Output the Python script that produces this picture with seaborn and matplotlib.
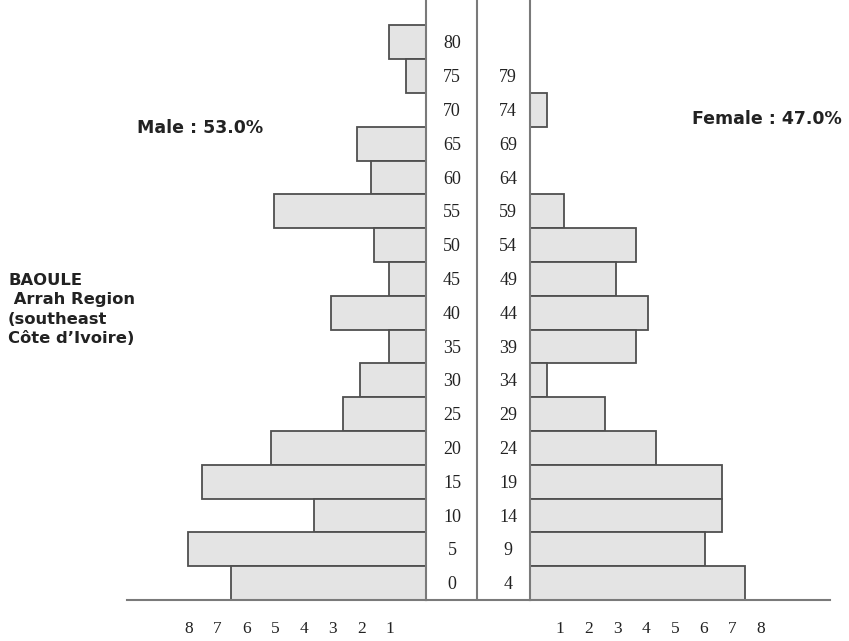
import matplotlib
matplotlib.use("Agg")
import matplotlib.pyplot as plt
import numpy as np
import pandas as pd
import seaborn as sns

# age groups, lower bound (left column) and upper bound (right column)
age_start = [0, 5, 10, 15, 20, 25, 30, 35, 40, 45, 50, 55, 60, 65, 70, 75, 80]
age_end = ["4", "9", "14", "19", "24", "29", "34", "39", "44", "49",
           "54", "59", "64", "69", "74", "79", ""]

# percent of population
male_pct = [6.8, 8.3, 3.9, 7.8, 5.4, 2.9, 2.3, 1.3, 3.3, 1.3,
            1.8, 5.3, 1.9, 2.4, 0.0, 0.7, 1.3]
female_pct = [7.5, 6.1, 6.7, 6.7, 4.4, 2.6, 0.6, 3.7, 4.1, 3.0,
              3.7, 1.2, 0.0, 0.0, 0.6, 0.0, 0.0]

male_ticks = [1, 2, 3, 4, 5, 6, 7, 8]
female_ticks = [1, 2, 3, 4, 5, 6, 7, 8]

male_share = "Male : 53.0%"
female_share = "Female : 47.0%"
group_note = ["BAOULE", " Arrah Region", "(southeast", "C\u00f4te d\u2019Ivoire)"]

W, H = 849, 641
PX = 28.7        # pixels per percent
ROW = 33.8       # pixels per age row
BAR = "#e4e4e4"
EDGE = "#4f4f4f"
LINE = "#7a7a7a"

sns.set_style("white")
plt.rcParams["font.family"] = ["Liberation Serif", "DejaVu Serif"]

df = pd.DataFrame({
    "group": [str(a) for a in age_start],
    "male": male_pct,
    "female": female_pct,
})
order = df["group"][::-1].tolist()

fig = plt.figure(figsize=(W / 100, H / 100), dpi=100)


def px_axes(x0, x1, y0, y1):
    return fig.add_axes([x0 / W, 1 - y1 / H, (x1 - x0) / W, (y1 - y0) / H])


ax_m = px_axes(127, 426, 0, 600)
ax_c = px_axes(426, 530, 0, 600)
ax_f = px_axes(530, 830, 0, 600)

for ax, col in [(ax_m, "male"), (ax_f, "female")]:
    sns.barplot(data=df, x=col, y="group", order=order, orient="h",
                color=BAR, edgecolor=EDGE, linewidth=1.3, width=1.0,
                saturation=1, errorbar=None, ax=ax)

n_rows = 600 / ROW
for ax in (ax_m, ax_c, ax_f):
    ax.set_ylim(len(order) - 0.5, len(order) - 0.5 - n_rows)
    ax.set_yticks([])
    ax.set_xlabel("")
    ax.set_ylabel("")
    ax.patch.set_alpha(0)
    for s in ax.spines.values():
        s.set_color(LINE)
        s.set_linewidth(1.5)
    ax.spines["top"].set_visible(False)

ax_m.set_xlim(299 / PX, 0)
ax_m.spines["left"].set_visible(False)
ax_f.set_xlim(0, 300 / PX)
ax_f.spines["right"].set_visible(False)
ax_c.set_xlim(0, 1)
ax_c.spines["left"].set_visible(False)
ax_c.spines["right"].set_visible(False)
ax_c.set_xticks([])
ax_c.axvline(0.49, color=LINE, lw=1.5)

ax_m.set_xticks(np.array(male_ticks) + 0.26, labels=[str(t) for t in male_ticks])
ax_f.set_xticks(np.array(female_ticks) + 0.05, labels=[str(t) for t in female_ticks])
for ax in (ax_m, ax_f):
    ax.tick_params(axis="x", length=0, pad=15, labelsize=12.5, labelcolor="#222")

# age labels in the centre column
for i, (lo, hi) in enumerate(zip(order, age_end[::-1])):
    ax_c.text(0.25, i + 0.05, lo, ha="center", va="center", fontsize=13, color="#222")
    ax_c.text(0.79, i + 0.05, hi, ha="center", va="center", fontsize=13, color="#222")

sans = ["DejaVu Sans"]
fig.text(200 / W, 1 - 128 / H, male_share, ha="center", va="center",
         fontsize=12.5, fontweight="bold", family=sans, color="#222")
fig.text(767 / W, 1 - 119 / H, female_share, ha="center", va="center",
         fontsize=12.5, fontweight="bold", family=sans, color="#222")
for k, line in enumerate(group_note):
    fig.text(8 / W, 1 - (280 + 19.5 * k) / H, line, ha="left", va="center",
             fontsize=11.8, fontweight="bold", family=sans, color="#222")

fig.savefig("out.png", dpi=100)
